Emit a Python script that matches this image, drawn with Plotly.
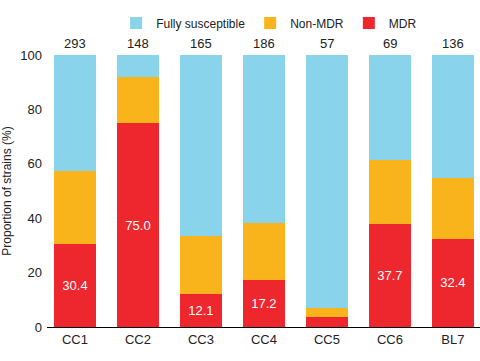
import plotly.graph_objects as go

categories = ["CC1", "CC2", "CC3", "CC4", "CC5", "CC6", "BL7"]
mdr = [30.4, 75.0, 12.1, 17.2, 3.5, 37.7, 32.4]
non_mdr = [27.0, 16.8, 21.4, 21.1, 3.5, 23.6, 22.4]
fully = [round(100 - a - b, 1) for a, b in zip(mdr, non_mdr)]
counts = [293, 148, 165, 186, 57, 69, 136]
mdr_labels = ["30.4", "75.0", "12.1", "17.2", "", "37.7", "32.4"]

FONT = "Arial, Liberation Sans, Helvetica, sans-serif"
C_BLUE = "#89D4EA"
C_ORANGE = "#F8B41A"
C_RED = "#EE262E"

fig = go.Figure()
fig.add_trace(go.Bar(x=categories, y=mdr, name="MDR", marker_color=C_RED,
                     marker_line_width=0, text=mdr_labels, textposition="inside",
                     insidetextanchor="middle", textangle=0,
                     textfont=dict(color="white", size=13, family=FONT)))
fig.add_trace(go.Bar(x=categories, y=non_mdr, name="Non-MDR", marker_color=C_ORANGE,
                     marker_line_width=0))
fig.add_trace(go.Bar(x=categories, y=fully, name="Fully susceptible", marker_color=C_BLUE,
                     marker_line_width=0))

for c, n in zip(categories, counts):
    fig.add_annotation(x=c, y=100, yref="y", text=str(n), showarrow=False,
                       yshift=12, font=dict(size=13, color="#222", family=FONT))

fig.update_layout(
    barmode="stack",
    bargap=0.333,
    width=480, height=361,
    margin=dict(l=47, r=0, t=55, b=34, autoexpand=False),
    paper_bgcolor="white", plot_bgcolor="white",
    font=dict(family=FONT, size=13, color="#222"),
    legend=dict(orientation="h", traceorder="reversed", x=0.513, xanchor="center",
                y=1 - 23 / 361, yref="container", yanchor="middle",
                font=dict(size=12, family=FONT), itemwidth=30),
)
fig.update_xaxes(range=[-0.444, 6.43], showline=True, linecolor="black", linewidth=1.2,
                 ticks="", showgrid=False, tickfont=dict(size=13), automargin=False)
fig.update_yaxes(range=[0, 100], tickvals=[0, 20, 40, 60, 80, 100], showline=False,
                 showgrid=False, zeroline=False, ticks="", ticklabelstandoff=4,
                 title=dict(text="Proportion of strains (%)", font=dict(size=12), standoff=10),
                 tickfont=dict(size=13), automargin=False)

fig.write_html("out.html", config={"displayModeBar": False},
               post_script="document.body.style.margin='0';")
